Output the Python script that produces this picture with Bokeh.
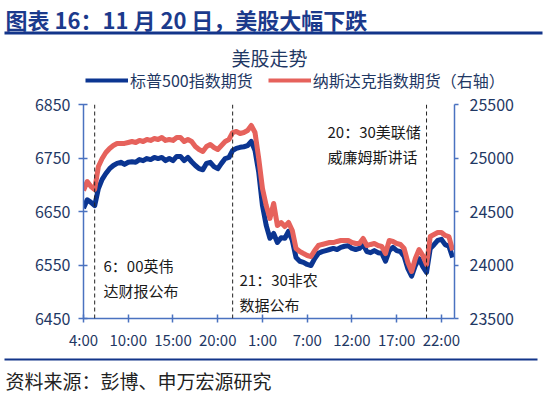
from bokeh.plotting import figure
from bokeh.layouts import column
from bokeh.models import (Range1d, LinearAxis, FixedTicker, Span, Label,
                          Legend, LegendItem)
from bokeh.embed import file_html
from bokeh.resources import INLINE

# ---------------- data ----------------
tick_labels = ["4:00", "10:00", "15:00", "20:00", "1:00", "7:00", "12:00", "17:00", "22:00"]
points_per_tick = 12

sp500 = [6656, 6672, 6667, 6661, 6693, 6710, 6721, 6730, 6736, 6740,
         6742, 6738, 6742, 6743, 6742, 6747, 6745, 6749, 6747, 6751,
         6749, 6751, 6745, 6749, 6745, 6753, 6753, 6745, 6751, 6743,
         6736, 6730, 6728, 6740, 6742, 6734, 6730, 6740, 6749, 6751,
         6764, 6768, 6770, 6771, 6773, 6781, 6764, 6723, 6661, 6624,
         6600, 6609, 6592, 6601, 6600, 6613, 6596, 6564, 6557, 6555,
         6551, 6549, 6562, 6572, 6575, 6577, 6579, 6581, 6579, 6583,
         6585, 6586, 6581, 6579, 6581, 6588, 6575, 6573, 6577, 6573,
         6572, 6557, 6577, 6583, 6577, 6575, 6566, 6543, 6529, 6549,
         6562, 6547, 6536, 6581, 6588, 6596, 6598, 6588, 6585, 6564]

nasdaq = [24696, 24780, 24734, 24706, 24921, 24995, 25051, 25089, 25117, 25136,
          25136, 25136, 25145, 25154, 25145, 25164, 25154, 25173, 25164, 25182,
          25173, 25192, 25164, 25173, 25164, 25192, 25192, 25154, 25173, 25154,
          25107, 25079, 25061, 25107, 25126, 25098, 25079, 25117, 25154, 25173,
          25238, 25248, 25229, 25238, 25257, 25304, 25238, 24995, 24715, 24556,
          24435, 24575, 24369, 24397, 24360, 24397, 24322, 24154, 24126, 24107,
          24089, 24079, 24136, 24182, 24192, 24201, 24210, 24210, 24220, 24229,
          24229, 24229, 24210, 24201, 24201, 24248, 24182, 24192, 24201, 24182,
          24173, 24107, 24229, 24220, 24201, 24192, 24154, 24023, 23939, 24061,
          24145, 24089, 24005, 24266, 24285, 24304, 24304, 24276, 24266, 24136]

series_names = ["标普500指数期货", "纳斯达克指数期货（右轴）"]
event_index = [3, 40, 92]
event_text = [["6：00英伟", "达财报公布"], ["21：30非农", "数据公布"], ["20：30美联储", "威廉姆斯讲话"]]

left_ticks = [6450, 6550, 6650, 6750, 6850]
right_ticks = [23500, 24000, 24500, 25000, 25500]

x = list(range(len(sp500)))

# ---------------- styles ----------------
CJK = "Noto Sans CJK SC"
NAVY = "#1f3864"
AXIS = "#4a72c0"
BLUE = "#0b3591"
RED = "#e6625c"
TITLE = "#1b3a8c"
RULE = "#13358a"
W = 545


def no_align(f):
    try:
        f.frame_align = False
    except Exception:
        pass


def deco_figure(h):
    f = figure(width=W, height=h, output_backend="svg", toolbar_location=None,
               x_range=Range1d(0, W), y_range=Range1d(0, h),
               x_axis_type=None, y_axis_type=None,
               min_border=0, min_border_left=0, min_border_right=0,
               min_border_top=0, min_border_bottom=0)
    f.grid.visible = False
    f.outline_line_color = None
    f.background_fill_color = "white"
    f.border_fill_color = "white"
    no_align(f)
    return f


def text(f, h, px, py, t, size, color, align="left", bold=False):
    f.add_layout(Label(x=px, y=h - py, text=t, text_font=CJK, text_font_size=size,
                       text_color=color, text_align=align, text_baseline="middle",
                       text_font_style="bold" if bold else "normal"))


def rule(f, h, x0, x1, y0, y1, color):
    f.quad(left=[x0], right=[x1], top=[h - y0], bottom=[h - y1],
           fill_color=color, fill_alpha=1, line_color=None)


# ---------------- header ----------------
H1 = 92
head = deco_figure(H1)
text(head, H1, 5, 18, "图表 16：11 月 20 日，美股大幅下跌", "22px", TITLE, bold=True)
rule(head, H1, 4, 542, 31, 34, RULE)
text(head, H1, 269, 57, "美股走势", "19px", NAVY, align="center")
# legend keys: the series drawn on an off-screen range of the header, so only the key shows
head.extra_y_ranges = {"off": Range1d(0, 1)}
k1 = head.line(x, sp500, line_color=BLUE, line_width=4, y_range_name="off")
k2 = head.line(x, nasdaq, line_color=RED, line_width=4, y_range_name="off")
legend = Legend(items=[LegendItem(label=series_names[0], renderers=[k1]),
                       LegendItem(label=series_names[1], renderers=[k2])],
                orientation="horizontal", location=(85, 0),
                padding=0, margin=0, spacing=15, label_standoff=2,
                glyph_width=43, glyph_height=16,
                label_text_font=CJK, label_text_font_size="16px", label_text_color=NAVY,
                border_line_alpha=0, background_fill_alpha=0)
head.add_layout(legend, "center")

# ---------------- main chart ----------------
FL, FR, FT, FB = 83, 454, 104, 318   # frame edges in page pixels
H2 = 262
p = figure(width=W, height=H2, output_backend="svg", toolbar_location=None,
           x_range=Range1d(0, 99.5), y_range=Range1d(left_ticks[0], left_ticks[-1]),
           min_border_left=FL, min_border_right=W - FR, min_border_top=FT - H1,
           min_border_bottom=H2 - (FB - H1))
no_align(p)
p.extra_y_ranges = {"nq": Range1d(right_ticks[0], right_ticks[-1])}
p.xgrid.visible = False
p.ygrid.visible = False
p.outline_line_color = None
p.background_fill_color = "white"
p.border_fill_color = "white"

p.line(x, sp500, line_color=BLUE, line_width=5, line_join="round")
p.line(x, nasdaq, line_color=RED, line_width=5, line_join="round", y_range_name="nq")

xa = p.xaxis[0]
xa.ticker = FixedTicker(ticks=[i * points_per_tick for i in range(len(tick_labels))])
xa.major_label_overrides = {i * points_per_tick: t for i, t in enumerate(tick_labels)}
ya = p.yaxis[0]
ya.ticker = FixedTicker(ticks=left_ticks)
ra = LinearAxis(y_range_name="nq", ticker=FixedTicker(ticks=right_ticks))
p.add_layout(ra, "right")

for ax in (xa, ya, ra):
    ax.axis_line_color = AXIS
    ax.axis_line_width = 1.5
    ax.major_tick_line_color = AXIS
    ax.major_tick_line_width = 1.5
    ax.minor_tick_line_color = None
    ax.major_label_text_color = NAVY
    ax.major_label_text_font = CJK
    ax.major_label_text_font_size = "16px"
xa.major_tick_in = 4
xa.major_tick_out = 4
xa.major_label_standoff = 6
xa.major_label_text_font_size = "15px"
ya.major_tick_in = 4
ya.major_tick_out = 5
ya.major_label_standoff = 8
ra.major_tick_in = 0
ra.major_tick_out = 4
ra.major_label_standoff = 11

for idx in event_index:
    p.add_layout(Span(location=idx, dimension="height", line_color="#222222",
                      line_width=1, line_dash="4 3"))

ann_pos = [(103, 265), (239, 279), (327, 131)]
for (px, py), lines in zip(ann_pos, event_text):
    for k, t in enumerate(lines):
        p.add_layout(Label(x=px - FL, y=FB - (py + 25 * k), x_units="screen", y_units="screen",
                           text=t, text_font=CJK, text_font_size="15px", text_color="#1a1a1a",
                           text_baseline="middle"))

# ---------------- footer ----------------
H3 = 395 - H1 - H2
foot = deco_figure(H3)
y0 = H1 + H2
rule(foot, H3, 4, 537, 358 - y0, 360 - y0, RULE)
text(foot, H3, 5, 380 - y0, "资料来源：彭博、申万宏源研究", "19px", "#222222")

layout = column(head, p, foot, spacing=0)
open("out.html", "w").write(file_html(layout, INLINE))
